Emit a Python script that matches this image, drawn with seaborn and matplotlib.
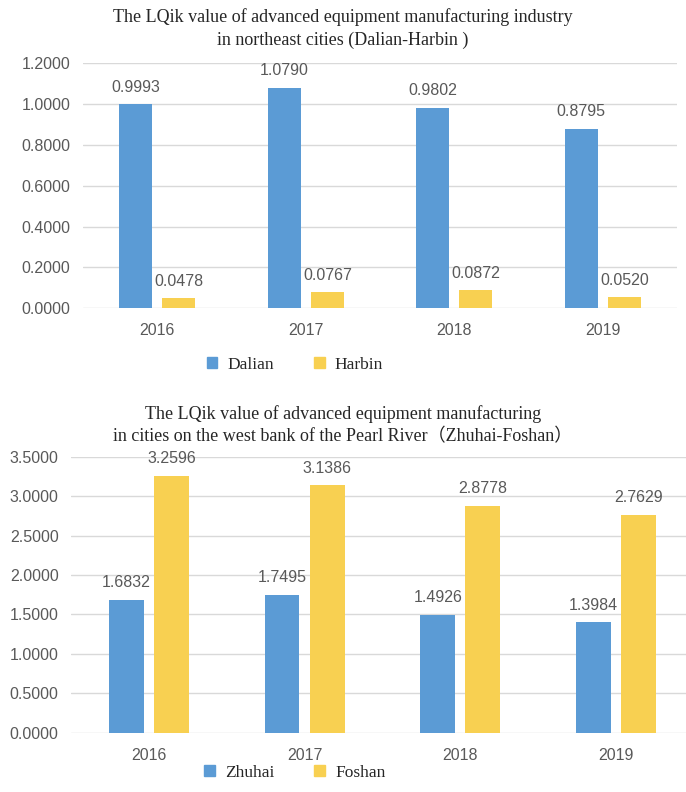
import matplotlib
matplotlib.use("Agg")
import matplotlib.pyplot as plt
import pandas as pd
import seaborn as sns

years = ["2016", "2017", "2018", "2019"]

dalian = [0.9993, 1.0790, 0.9802, 0.8795]
harbin = [0.0478, 0.0767, 0.0872, 0.0520]

zhuhai = [1.6832, 1.7495, 1.4926, 1.3984]
foshan = [3.2596, 3.1386, 2.8778, 2.7629]

title_top = ("The LQik value of advanced equipment manufacturing industry\n"
             "in northeast cities (Dalian-Harbin )")
title_bottom = ("The LQik value of advanced equipment manufacturing\n"
                "in cities on the west bank of the Pearl River（Zhuhai-Foshan）")

BLUE = "#5B9BD5"
YELLOW = "#F8D051"
GRAY = "#595959"
GRID = "#D9D9D9"
SERIF = ["Liberation Serif", "Noto Sans CJK SC"]


def long_frame(a_name, a_vals, b_name, b_vals):
    rows = []
    for name, vals in ((a_name, a_vals), (b_name, b_vals)):
        for y, v in zip(years, vals):
            rows.append({"year": y, "city": name, "value": v})
    return pd.DataFrame(rows)


def draw(ax, df, names, ymax, step):
    sns.barplot(data=df, x="year", y="value", hue="city", hue_order=names,
                palette=[BLUE, YELLOW], width=0.58, gap=0.23, ax=ax,
                legend=False, saturation=1.0, linewidth=0)
    for c in ax.containers:
        ax.bar_label(c, fmt="%.4f", padding=7, fontsize=11.5, color=GRAY,
                     family="Liberation Sans")
    ax.set_ylim(0, ymax)
    ax.set_xlim(-0.5, 3.5)
    ticks = [i * step for i in range(int(round(ymax / step)) + 1)]
    ax.set_yticks(ticks)
    ax.set_yticklabels([f"{t:.4f}" for t in ticks])
    ax.grid(axis="y", color=GRID, lw=1)
    ax.set_axisbelow(True)
    for s in ax.spines.values():
        s.set_visible(False)
    ax.tick_params(length=0, labelsize=11.5, labelcolor=GRAY)
    ax.tick_params(axis="x", pad=11)
    ax.tick_params(axis="y", pad=9)
    for lab in ax.get_xticklabels() + ax.get_yticklabels():
        lab.set_family("Liberation Sans")
    ax.set_xlabel("")
    ax.set_ylabel("")


sns.set_style("white")
plt.rcParams["font.family"] = ["Liberation Sans", "DejaVu Sans"]

fig = plt.figure(figsize=(6.86, 7.92), dpi=100)
ax1 = fig.add_axes([0.121, 0.611, 0.866, 0.309])
ax2 = fig.add_axes([0.1035, 0.0751, 0.908, 0.348])

draw(ax1, long_frame("Dalian", dalian, "Harbin", harbin), ["Dalian", "Harbin"], 1.2, 0.2)
draw(ax2, long_frame("Zhuhai", zhuhai, "Foshan", foshan), ["Zhuhai", "Foshan"], 3.5, 0.5)

fig.text(0.5, 1 - 28.5 / 792, title_top, ha="center", va="center", fontsize=13,
         family=SERIF, linespacing=1.45)
fig.text(0.5, 1 - 425 / 792, title_bottom, ha="center", va="center", fontsize=13,
         family=SERIF, linespacing=1.4)


def legend(names, y):
    handles = [plt.Rectangle((0, 0), 1, 1, color=c) for c in (BLUE, YELLOW)]
    fig.legend(handles, names, loc="center", bbox_to_anchor=(295 / 686, 1 - y / 792),
               ncol=2, frameon=False, handlelength=0.6, handleheight=0.6,
               handletextpad=0.6, columnspacing=2.3,
               prop={"family": "Liberation Serif", "size": 12.5})


legend(["Dalian", "Harbin"], 365)
legend(["Zhuhai", "Foshan"], 773)

fig.savefig("out.png", dpi=100)
